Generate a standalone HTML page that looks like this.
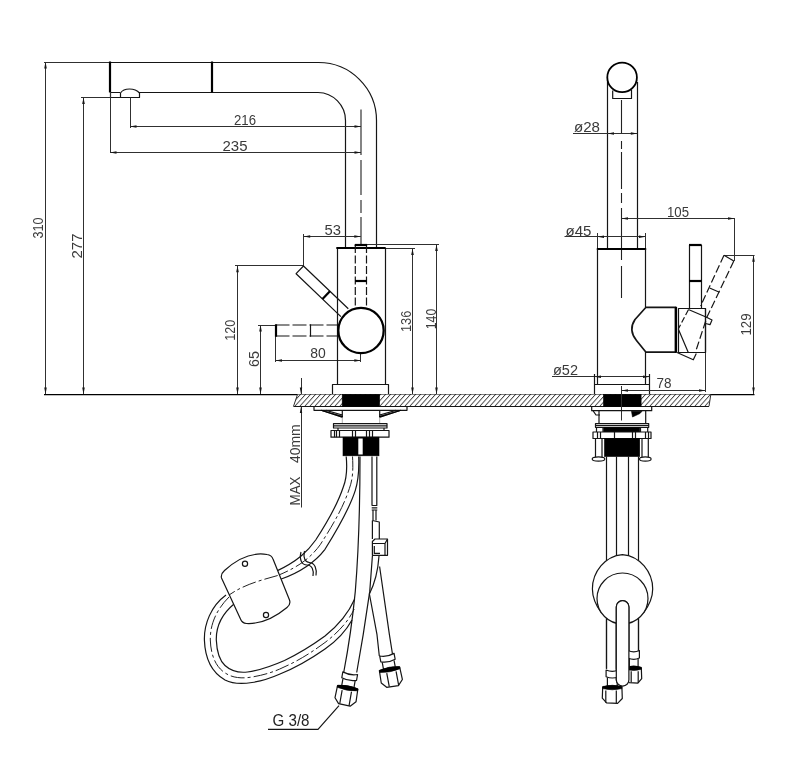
<!DOCTYPE html>
<html><head><meta charset="utf-8"><title>Faucet drawing</title>
<style>
html,body{margin:0;padding:0;background:#fff;}
body{width:800px;height:762px;overflow:hidden;font-family:"Liberation Sans",sans-serif;}
svg{display:block;filter:grayscale(1)}
.o{stroke:#151515;stroke-width:1.2;fill:none;stroke-linecap:butt;stroke-linejoin:round}
.of{stroke:#151515;stroke-width:1.2;fill:#fff;stroke-linejoin:round}
.t{stroke:#000;stroke-width:2.2;fill:none}
.g{stroke:#000;stroke-width:1.25;fill:none}
.d{stroke:#303030;stroke-width:1;fill:none}
.l{stroke:#999;stroke-width:0.8;fill:none}
.c{stroke:#222;stroke-width:1.1;fill:none}
.c2{stroke:#222;stroke-width:1;fill:none;stroke-dasharray:14 3 3 3}
.a{fill:#161616;stroke:none}
.k{fill:#000;stroke:#000;stroke-width:0.6}
.w{fill:#fff;stroke:none}
.tx{font-family:"Liberation Sans",sans-serif;fill:#3a3a3a;}
.tg{font-family:"Liberation Sans",sans-serif;fill:#222;}
</style></head><body>
<svg width="800" height="762" viewBox="0 0 800 762">
<defs><pattern id="h" width="5" height="5" patternUnits="userSpaceOnUse" patternTransform="skewX(-42)"><rect width="5" height="5" fill="#fff"/><rect width="1.15" height="5" fill="#3a3a3a"/></pattern></defs>
<rect width="800" height="762" fill="#fff"/>
<line class="d" x1="44" y1="62.5" x2="110" y2="62.5"/>
<path class="o" d="M110,62.5 H318 A58,58 0 0 1 376.5,120.5 V248.4" />
<path class="o" d="M139,92.5 H318 A28,28 0 0 1 345.5,120.5 V248.4" />
<line class="t" x1="110" y1="61.5" x2="110" y2="92.5"/>
<line class="t" x1="212" y1="61.5" x2="212" y2="92.5"/>
<path class="o" d="M110.5,92.5 V97.5 H139.5 V93 Q136,89 129.5,89 Q123,89 120.5,93 V97.5 M110,92.5 H120" />
<line class="d" x1="81" y1="97.5" x2="110" y2="97.5"/>
<line class="d" x1="110.5" y1="92" x2="110.5" y2="153"/>
<line class="d" x1="130.5" y1="97.5" x2="130.5" y2="128"/>
<path class="c" d="M361,109.5 V155 M361,160 V195 M361,200 V213 M361,217 V245"/>
<line class="d" x1="45.5" y1="62" x2="45.5" y2="394"/>
<polygon class="a" points="45.5,62.0 46.8,68.5 44.2,68.5"/>
<polygon class="a" points="45.5,394.0 44.2,387.5 46.8,387.5"/>
<text class="tx" x="43" y="228" font-size="14.5" text-anchor="middle" transform="rotate(-90 43 228)" textLength="21" lengthAdjust="spacingAndGlyphs">310</text>
<line class="d" x1="83.5" y1="97.5" x2="83.5" y2="394"/>
<polygon class="a" points="83.5,97.5 84.8,104.0 82.2,104.0"/>
<polygon class="a" points="83.5,394.0 82.2,387.5 84.8,387.5"/>
<text class="tx" x="82" y="246" font-size="14.5" text-anchor="middle" transform="rotate(-90 82 246)" textLength="25" lengthAdjust="spacingAndGlyphs">277</text>
<line class="d" x1="130" y1="126.5" x2="361" y2="126.5"/>
<polygon class="a" points="130.0,126.5 136.5,125.2 136.5,127.8"/>
<polygon class="a" points="361.0,126.5 354.5,127.8 354.5,125.2"/>
<text class="tx" x="245" y="124.5" font-size="14.5" text-anchor="middle" textLength="22" lengthAdjust="spacingAndGlyphs">216</text>
<line class="d" x1="110" y1="152.5" x2="361" y2="152.5"/>
<polygon class="a" points="110.0,152.5 116.5,151.2 116.5,153.8"/>
<polygon class="a" points="361.0,152.5 354.5,153.8 354.5,151.2"/>
<text class="tx" x="235" y="150.5" font-size="14.5" text-anchor="middle" textLength="25" lengthAdjust="spacingAndGlyphs">235</text>
<line class="d" x1="303.7" y1="236.5" x2="360.8" y2="236.5"/>
<polygon class="a" points="303.7,236.5 310.2,235.2 310.2,237.8"/>
<polygon class="a" points="360.8,236.5 354.3,237.8 354.3,235.2"/>
<text class="tx" x="332.7" y="235" font-size="14.5" text-anchor="middle" textLength="16.5" lengthAdjust="spacingAndGlyphs">53</text>
<line class="d" x1="303.5" y1="266" x2="303.5" y2="234"/>
<line class="d" x1="235" y1="265.5" x2="303.5" y2="265.5"/>
<line class="d" x1="237.5" y1="265.8" x2="237.5" y2="394"/>
<polygon class="a" points="237.5,265.8 238.8,272.3 236.2,272.3"/>
<polygon class="a" points="237.5,394.0 236.2,387.5 238.8,387.5"/>
<text class="tx" x="235" y="330.3" font-size="14.5" text-anchor="middle" transform="rotate(-90 235 330.3)" textLength="21" lengthAdjust="spacingAndGlyphs">120</text>
<line class="d" x1="258" y1="325.5" x2="275.5" y2="325.5"/>
<line class="d" x1="260.5" y1="325" x2="260.5" y2="394"/>
<polygon class="a" points="260.5,325.0 261.8,331.5 259.2,331.5"/>
<polygon class="a" points="260.5,394.0 259.2,387.5 261.8,387.5"/>
<text class="tx" x="258.5" y="359" font-size="14.5" text-anchor="middle" transform="rotate(-90 258.5 359)" textLength="16" lengthAdjust="spacingAndGlyphs">65</text>
<line class="d" x1="275.5" y1="336" x2="275.5" y2="362"/>
<line class="d" x1="360.5" y1="352" x2="360.5" y2="362"/>
<line class="d" x1="275.5" y1="360.5" x2="360.8" y2="360.5"/>
<polygon class="a" points="275.5,360.5 282.0,359.2 282.0,361.8"/>
<polygon class="a" points="360.8,360.5 354.3,361.8 354.3,359.2"/>
<text class="tx" x="318" y="358.3" font-size="14.5" text-anchor="middle" textLength="15.5" lengthAdjust="spacingAndGlyphs">80</text>
<line class="d" x1="385" y1="248.5" x2="415" y2="248.5"/>
<line class="d" x1="412.5" y1="248.4" x2="412.5" y2="394"/>
<polygon class="a" points="412.5,248.4 413.8,254.9 411.2,254.9"/>
<polygon class="a" points="412.5,394.0 411.2,387.5 413.8,387.5"/>
<text class="tx" x="411.3" y="321.3" font-size="14.5" text-anchor="middle" transform="rotate(-90 411.3 321.3)" textLength="21.5" lengthAdjust="spacingAndGlyphs">136</text>
<line class="d" x1="367" y1="244.5" x2="439" y2="244.5"/>
<line class="d" x1="436.5" y1="244.5" x2="436.5" y2="394"/>
<polygon class="a" points="436.5,244.5 437.8,251.0 435.2,251.0"/>
<polygon class="a" points="436.5,394.0 435.2,387.5 437.8,387.5"/>
<text class="tx" x="436" y="319" font-size="14.5" text-anchor="middle" transform="rotate(-90 436 319)" textLength="20.5" lengthAdjust="spacingAndGlyphs">140</text>
<path class="o" d="M348.3,308.8 L303.5,266 L296.1,273.7 L340.9,316.6" />
<line class="t" x1="329.9" y1="291.2" x2="322.5" y2="299.0"/>
<path class="o" d="M337.5,248.4 V384.4 M385.5,248.4 V384.4" />
<line class="t" x1="336.3" y1="248" x2="385.7" y2="248"/>
<rect class="o" x="332.5" y="384.5" width="56" height="10" />
<path class="o" stroke-dasharray="8 2.5" d="M355.3,245 V308 M366.5,245 V308"/>
<line class="t" x1="354.7" y1="245" x2="367.1" y2="245"/>
<line class="t" x1="355" y1="281" x2="366.8" y2="281"/>
<path class="o" stroke-dasharray="14 3" d="M275.5,325 H338 M275.5,336 H338"/>
<line class="t" x1="276" y1="324.3" x2="276" y2="336.7"/>
<line class="o" x1="310.5" y1="324.3" x2="310.5" y2="336.7"/>
<circle cx="361" cy="330.5" r="22.7" fill="#fff" stroke="#000" stroke-width="2.3"/>
<line class="g" x1="44" y1="394.5" x2="754.5" y2="394.5"/>
<polygon points="297.5,394.5 710.8,394.5 709,406.3 293.5,406.3" fill="url(#h)"/>
<line class="o" x1="293.5" y1="406.5" x2="709" y2="406.5"/>
<line class="d" x1="297.5" y1="394.5" x2="293.5" y2="406.3"/>
<line class="d" x1="710.8" y1="394.5" x2="709" y2="406.3"/>
<rect class="k" x="342.2" y="394.3" width="37.4" height="12.2" />
<rect class="k" x="603.5" y="394.3" width="37.6" height="12.2" />
<line class="d" x1="301.5" y1="378" x2="301.5" y2="394"/>
<polygon class="a" points="301.0,394.0 299.8,387.5 302.2,387.5"/>
<line class="d" x1="301.5" y1="406.5" x2="301.5" y2="507.5"/>
<polygon class="a" points="301.0,406.5 302.2,413.0 299.8,413.0"/>
<text class="tx" x="299.6" y="491" font-size="15" text-anchor="middle" transform="rotate(-90 299.6 491)" textLength="29" lengthAdjust="spacingAndGlyphs">MAX</text>
<text class="tx" x="299.6" y="443.7" font-size="15" text-anchor="middle" transform="rotate(-90 299.6 443.7)" textLength="38.6" lengthAdjust="spacingAndGlyphs">40mm</text>
<path class="o" d="M314,406.3 V410.3 H407 V406.3" />
<path class="o" d="M321,410.3 L342.3,417.3 V410.3 M326,410.3 L342.3,415 M401,410.3 L379.7,417.3 V410.3 M396,410.3 L379.7,415" />
<path class="k" d="M321,410.3 L342.3,416 L342.3,417.3 Z M401,410.3 L379.7,416 L379.7,417.3 Z" />
<path class="l" d="M342.3,417 V423.5 M379.7,417 V423.5" />
<path class="o" d="M333.5,423.6 H387 V428 H333.5 Z M333.5,425.8 H387" />
<path class="o" d="M338,428 V430.5 M384,428 V430.5" />
<rect class="of" x="331" y="430.5" width="58" height="6.7" />
<line class="o" x1="334.5" y1="430.5" x2="334.5" y2="437.2"/>
<line class="o" x1="336.5" y1="430.5" x2="336.5" y2="437.2"/>
<line class="o" x1="339.5" y1="430.5" x2="339.5" y2="437.2"/>
<line class="o" x1="352.5" y1="430.5" x2="352.5" y2="437.2"/>
<line class="o" x1="355.5" y1="430.5" x2="355.5" y2="437.2"/>
<line class="o" x1="366.5" y1="430.5" x2="366.5" y2="437.2"/>
<line class="o" x1="369.5" y1="430.5" x2="369.5" y2="437.2"/>
<line class="o" x1="372.5" y1="430.5" x2="372.5" y2="437.2"/>
<rect class="k" x="343" y="437.2" width="36" height="18.6" />
<rect class="w" x="358.3" y="438.5" width="4.4" height="16" />
<path class="o" d="M346.2,456.5 C347.5,470 346,480 343.3,487 C338,503 330,518 315.7,540 C308,551 298,561 275.5,571.6" />
<path class="o" d="M358.7,456.5 C359.3,472 358.5,480 355.3,490.4 C350,507 342,522 325,549.3 C316,561 304,571 280,579.5" />
<path class="c2" d="M352.5,456.5 C353.4,471 352.5,480 349.3,488.7 C344,505 336,520 320.3,544.6 C312,556 301,566 277.7,575.5 L229,595"/>
<path class="o" d="M226,595 C211,606 204,624 204.4,640 C205,657 211,672 225,680 C233,684 243,684 252,682.5 C262,681 271,678 280,674 C300,666 315,656 325,649 C338,640 347,629 352,620" />
<path class="o" d="M234,604 C222,614 216,627 216.3,640 C216.8,651 219,660 225,665.5 C231,671 239,673 247.5,672 C262,670 272,666 284.5,660.5 C300,653 314,644 325,636 C340,624 349,612 354.7,599" />
<path class="c2" d="M229,597 C216,610 210,625 210.3,640 C210.8,654 215,667 226,673.5 C233,678 242,678.5 250,677.3 C263,675.5 275,671.5 283,667.5 C300,660 312,652 325,642.5 C340,631 349,620 354.2,609"/>
<path class="of" d="M224.5,570.5 Q246,551 267,554.5 Q271.5,555 273,559 L289.5,600 Q291,604.5 287,607.5 Q266.5,624.5 246.5,623.5 Q242,623 240.5,619 L221.5,578 Q220.5,574 224.5,570.5 Z"/>
<path class="c2" d="M277.7,575.5 C262,580 245,584 229,595"/>
<circle class="o" cx="245" cy="563.8" r="2.6"/>
<circle class="o" cx="266" cy="615" r="2.6"/>
<path class="o" d="M301,552 C299,560 302,565 307,565 C312,565 314,570 313,576 M304.5,551 C303,558 305,562 309.5,562.5 C315,563 317,569 316,575.5" />
<path class="o" d="M360,456.5 C360,500 359.5,540 355.3,591.4 C353,615 348,650 343.7,672.5" />
<path class="o" d="M372.4,556 L369.75,591.4 L363.2,634.7 L356.7,672.5" />
<path class="o" d="M379,556 Q377.5,578 369.4,594 L377,634.7 L379.3,656" />
<path class="o" d="M379.6,566.5 L389.4,634.7 L392.8,656" />
<path class="o" d="M372,456.5 V505.5 M376.8,456.5 V505.5 M371.7,505.5 H377.3 M371.7,507.8 H377.3 M371.7,510 H377.3 M373,510 V520.5 M376,510 V520.5" />
<path class="o" d="M372.4,520.5 L379.3,522 V539 M372.4,520.5 V539" />
<path class="of" d="M372.4,541.5 L375,539 H387.5 V555.3 H372.4 Z"/>
<path class="o" d="M372.4,543.5 H385 V555.3 M385,543.5 L387.5,539 M374.3,546 V553.4 H380" />
<g transform="translate(350.2 673.2) rotate(10)"><path class="of" d="M-7.5,0 Q0,2.6 7.5,0 L7.5,6 Q0,8.6 -7.5,6 Z"/><path class="o" d="M-6.2,6.8 V13.5 M6.2,6.8 V13.5"/><path class="of" d="M-10.3,14.5 Q0,12.0 10.3,14.5 L10.700000000000001,27.18 L5.665000000000001,32.5 L-6.180000000000001,32.0 L-10.700000000000001,26.8 Z"/><path class="k" d="M-10.3,14.0 Q0,11.5 10.3,14.0 L10.3,16.1 Q0,18.5 -10.3,16.1 Z"/><path class="o" d="M-5,18.0 L-5,31.9 M4.5,18.0 L4.5,32.3"/></g>
<g transform="translate(386.9 654.7) rotate(-10.5)"><path class="of" d="M-7.3,0 Q0,2.6 7.3,0 L7.3,6 Q0,8.6 -7.3,6 Z"/><path class="o" d="M-6.0,6.8 V13.5 M6.0,6.8 V13.5"/><path class="of" d="M-10.3,14.5 Q0,12.0 10.3,14.5 L10.700000000000001,27.18 L5.665000000000001,32.5 L-6.180000000000001,32.0 L-10.700000000000001,26.8 Z"/><path class="k" d="M-10.3,14.0 Q0,11.5 10.3,14.0 L10.3,16.1 Q0,18.5 -10.3,16.1 Z"/><path class="o" d="M-3.5,18.0 L-3.5,31.9 M6,18.0 L6,32.3"/></g>
<text class="tg" x="291" y="726" font-size="16.5" text-anchor="middle" textLength="37" lengthAdjust="spacingAndGlyphs">G 3/8</text>
<path class="o" d="M268,729.3 H318 L339,705.6" />
<path class="o" d="M607.5,82 V249 M637.5,82 V249" />
<circle cx="622.1" cy="77.4" r="14.8" fill="#fff" stroke="#000" stroke-width="1.8"/>
<path class="o" d="M612.7,90.5 V98.5 H631.5 V89.5" />
<path class="c" d="M621.5,100 V134 M621.5,141 V149 M621.5,152 V189 M621.5,193 V203 M621.5,208 V260 M621.5,266 V298"/>
<line class="d" x1="573" y1="133.5" x2="637.3" y2="133.5"/>
<polygon class="a" points="607.5,133.5 614.0,132.2 614.0,134.8"/>
<polygon class="a" points="637.3,133.5 630.8,134.8 630.8,132.2"/>
<text class="tx" x="587" y="131.5" font-size="14.5" text-anchor="middle" textLength="26" lengthAdjust="spacingAndGlyphs">ø28</text>
<line class="d" x1="621.5" y1="218.5" x2="734.5" y2="218.5"/>
<polygon class="a" points="621.5,218.5 628.0,217.2 628.0,219.8"/>
<polygon class="a" points="734.5,218.5 728.0,219.8 728.0,217.2"/>
<text class="tx" x="678" y="216.5" font-size="14.5" text-anchor="middle" textLength="22" lengthAdjust="spacingAndGlyphs">105</text>
<line class="d" x1="734.5" y1="218" x2="734.5" y2="261"/>
<line class="d" x1="564.5" y1="236.5" x2="646" y2="236.5"/>
<polygon class="a" points="597.5,236.7 604.0,235.4 604.0,237.9"/>
<polygon class="a" points="645.5,236.7 639.0,237.9 639.0,235.4"/>
<text class="tx" x="578.5" y="235.5" font-size="14.5" text-anchor="middle" textLength="26" lengthAdjust="spacingAndGlyphs">ø45</text>
<path class="d" d="M597.5,233 V249 M645.5,233 V249" />
<line class="t" x1="596.8" y1="249" x2="646.2" y2="249"/>
<path class="o" d="M597.5,249 V384 M645.5,249 V307 M645.5,352 V384" />
<line class="d" x1="552" y1="376.5" x2="649.5" y2="376.5"/>
<polygon class="a" points="594.5,376.8 601.0,375.6 601.0,378.1"/>
<polygon class="a" points="649.5,376.8 643.0,378.1 643.0,375.6"/>
<text class="tx" x="565.5" y="375.3" font-size="14.5" text-anchor="middle" textLength="25" lengthAdjust="spacingAndGlyphs">ø52</text>
<path class="o" d="M594.5,374 V394 M649.5,374 V394 M594.5,384.5 H649.5" />
<line class="d" x1="621.5" y1="390.5" x2="705.5" y2="390.5"/>
<polygon class="a" points="621.5,390.5 628.0,389.2 628.0,391.8"/>
<polygon class="a" points="705.5,390.5 699.0,391.8 699.0,389.2"/>
<text class="tx" x="664" y="388.2" font-size="14.5" text-anchor="middle" textLength="15" lengthAdjust="spacingAndGlyphs">78</text>
<line class="d" x1="705.5" y1="352" x2="705.5" y2="392"/>
<line class="d" x1="621.5" y1="386" x2="621.5" y2="420.5"/>
<line class="d" x1="724" y1="255.5" x2="754.6" y2="255.5"/>
<line class="d" x1="753.5" y1="255.3" x2="753.5" y2="394"/>
<polygon class="a" points="753.5,255.3 754.8,261.8 752.2,261.8"/>
<polygon class="a" points="753.5,394.0 752.2,387.5 754.8,387.5"/>
<text class="tx" x="751.3" y="324.5" font-size="14.5" text-anchor="middle" transform="rotate(-90 751.3 324.5)" textLength="22" lengthAdjust="spacingAndGlyphs">129</text>
<path class="of" style="stroke-width:1.7" d="M646,307.3 H675.5 V352.2 H646 L636.5,340.5 Q628,330 635,319.5 Z"/>
<line class="t" x1="676" y1="306.8" x2="676" y2="352.8"/>
<rect class="o" x="678.5" y="308.5" width="27" height="44" />
<line class="o" x1="705.5" y1="308.5" x2="705.5" y2="352.5"/>
<path class="o" d="M689.5,245 V308.4 M701.5,245 V308.4" />
<line class="t" x1="689" y1="245" x2="701.6" y2="245"/>
<line class="t" x1="689" y1="281" x2="701.6" y2="281"/>
<path class="o" d="M688.4,309.5 L706,317 L712,320 L710,324.7 L705.5,323.5 M678.3,329 L688.4,352.8 M677,352.5 L693.3,359.8 L696.3,353.5" />
<path class="o" stroke-dasharray="6 2.5" d="M688.4,309.7 L678.3,329"/>
<path class="o" stroke-dasharray="8 3" d="M724,255.3 L700.6,306 M733.8,261 L707,317 L695.5,352"/>
<line class="o" x1="724" y1="255.3" x2="733.8" y2="261"/>
<line class="o" x1="709.6" y1="288" x2="719.4" y2="292.3"/>
<path class="o" d="M591.7,406.3 V410.7 H651.7 V406.3" />
<path class="o" d="M593,410.7 L596,415 H600 M599,410.7 V423.5 M645.7,410.7 V423.5" />
<path class="k" d="M631.5,411.3 H642 L640,413.5 L632.5,417 Z"/>
<path class="o" d="M595.5,423.5 H648.7 V427.3 H595.5 Z M595.5,425.3 H648.7" />
<rect class="k" x="603.7" y="427.8" width="36" height="4.3" />
<path class="o" d="M596.5,427.3 V432 M603,427.3 V432 M640.5,427.3 V432 M647.7,427.3 V432" />
<rect class="of" x="593" y="432" width="58" height="6.5" />
<line class="o" x1="597.5" y1="432" x2="597.5" y2="438.5"/>
<line class="o" x1="600.5" y1="432" x2="600.5" y2="438.5"/>
<line class="o" x1="614.5" y1="432" x2="614.5" y2="438.5"/>
<line class="o" x1="632.5" y1="432" x2="632.5" y2="438.5"/>
<line class="o" x1="635.5" y1="432" x2="635.5" y2="438.5"/>
<line class="o" x1="645.5" y1="432" x2="645.5" y2="438.5"/>
<line class="o" x1="648.5" y1="432" x2="648.5" y2="438.5"/>
<rect class="k" x="604.5" y="438.5" width="35.2" height="18" />
<path class="o" d="M595.5,438.5 V457 M602,438.5 V457 M642,438.5 V457 M648.3,438.5 V457" />
<ellipse class="of" cx="598.5" cy="459" rx="6.3" ry="2.1"/>
<ellipse class="of" cx="645.3" cy="459" rx="5.8" ry="2.1"/>
<path class="o" d="M606.5,456.5 V668.7 M616.5,456.5 V668.7 M628.5,456.5 V651 M638.5,456.5 V651" />
<path class="w" d="M622.4,554.6 C640,556 652.7,572 652.7,589 C652.7,606 645,615 640,619.5 L605,619.5 C600,615 592.4,606 592.4,589 C592.4,572 605,556 622.4,554.6 Z"/>
<path class="o" d="M643.4,613.1 C648,607 652.7,600 652.7,589 C652.7,572 640,556 622.4,554.6 C605,556 592.4,572 592.4,589 C592.4,600 597,607 601.6,613.1" />
<circle class="of" cx="622.5" cy="598.5" r="25.5"/>
<path class="o" d="M606.5,618 V668.7 M616.5,623.3 V668.7 M628.5,623.3 V651 M638.5,618 V651" />
<path class="of" d="M616.3,607 A6.3,6.3 0 0 1 628.9,607 V679.7 A6.3,6.3 0 0 1 616.3,679.7 Z"/>
<g transform="translate(612.3 670) rotate(0)"><path class="of" d="M-6.2,0 Q0,2.6 6.2,0 L6.2,6.7 Q0,9.3 -6.2,6.7 Z"/><path class="o" d="M-4.9,7.5 V16 M4.9,7.5 V16"/><path class="of" d="M-9.6,17 Q0,14.5 9.6,17 L10.0,28.528 L5.28,33.4 L-5.76,32.9 L-10.0,28.18 Z"/><path class="k" d="M-9.6,16.5 Q0,14 9.6,16.5 L9.6,18.6 Q0,21 -9.6,18.6 Z"/><path class="o" d="M-6.5,20.5 L-6.5,32.8 M4,20.5 L4,33.199999999999996"/></g>
<g transform="translate(633.7 650.5) rotate(0)"><path class="of" d="M-5.7,0 Q0,2.6 5.7,0 L5.7,7.5 Q0,10.1 -5.7,7.5 Z"/><path class="o" d="M-4.4,8.3 V16.2 M4.4,8.3 V16.2"/><path class="of" d="M-7.6,17.2 Q0,14.7 7.6,17.2 L8.0,28.080000000000002 L4.18,32.7 L-4.56,32.2 L-8.0,27.75 Z"/><path class="k" d="M-7.6,16.7 Q0,14.2 7.6,16.7 L7.6,18.8 Q0,21.2 -7.6,18.8 Z"/><path class="o" d="M-2.5,20.7 L-2.5,32.1 M4.5,20.7 L4.5,32.5"/></g>
<path class="of" d="M616.3,607 A6.3,6.3 0 0 1 628.9,607 V679.7 A6.3,6.3 0 0 1 616.3,679.7 Z"/>
</svg>
</body></html>
